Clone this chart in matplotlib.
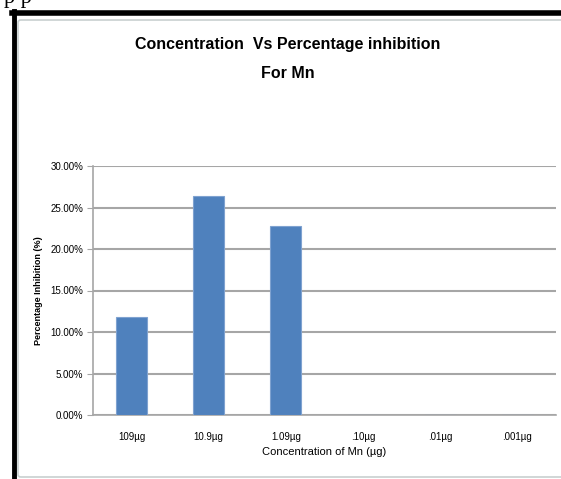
import matplotlib.pyplot as plt
from matplotlib.patches import FancyBboxPatch
from matplotlib.lines import Line2D
from matplotlib.ticker import PercentFormatter
import numpy as np

concentrations = ['109µg', '10.9µg', '1.09µg', '.10µg', '.01µg', '.001µg']
inhibition = [0.118, 0.264, 0.228, 0, 0, 0]

plt.rcParams['font.family'] = ['Liberation Sans Narrow', 'Liberation Sans', 'DejaVu Sans']

W, H = 561, 479
fig = plt.figure(figsize=(W / 100, H / 100), dpi=100)

# page frame: black rule on top and left, grey chart box inside
fig.add_artist(FancyBboxPatch((18 / W, 2 / H), 1.2, 1 - 20 / H - 2 / H,
                              boxstyle='round,pad=0,rounding_size=0.005',
                              fc='white', ec='#c8d0d0', lw=1.2, transform=fig.transFigure, zorder=-5))
fig.add_artist(Line2D([12 / W, 1], [1 - 13 / H, 1 - 13 / H], color='black', lw=4, transform=fig.transFigure))
fig.add_artist(Line2D([14 / W, 14 / W], [0, 1 - 11 / H], color='black', lw=3.5, transform=fig.transFigure))
fig.text(4 / W, 1 + 2 / H, 'p p', family='Liberation Serif', fontsize=16, va='center')

ax = fig.add_axes([93 / W, 1 - 415 / H, (556 - 93) / W, (415 - 166) / H])
ax.patch.set_alpha(0)
x = np.arange(len(concentrations))
ax.bar(x, inhibition, width=0.4, color='#4f81bd', edgecolor='#7fa2d0', linewidth=0.8, zorder=3)

ax.set_xlim(-0.5, len(concentrations) - 0.5)
ax.set_ylim(0, 0.30)
ax.set_yticks(np.arange(0, 0.301, 0.05))
ax.yaxis.set_major_formatter(PercentFormatter(1.0, decimals=2))
ax.set_xticks(x)
ax.set_xticklabels(concentrations)
ax.grid(axis='y', color='#a6a6a6', lw=1.5, zorder=0)
ax.tick_params(axis='y', length=4, color='#a6a6a6', labelsize=7, pad=3)
ax.tick_params(axis='x', length=0, labelsize=7, pad=12)
for s in ['top', 'right']:
    ax.spines[s].set_visible(False)
for s in ['left', 'bottom']:
    ax.spines[s].set_color('#a6a6a6')
    ax.spines[s].set_linewidth(1.2)

ax.set_xlabel('Concentration of Mn (µg)', fontsize=8, labelpad=4)
ax.set_ylabel('Percentage Inhibition (%)', fontsize=6.5, fontweight='bold', labelpad=5)

fig.text(288 / W, 1 - 45 / H, 'Concentration  Vs Percentage inhibition', ha='center', va='center',
         fontsize=11.5, fontweight='bold')
fig.text(288 / W, 1 - 74 / H, 'For Mn', ha='center', va='center', fontsize=11.5, fontweight='bold')

fig.savefig('out.png', dpi=100)
